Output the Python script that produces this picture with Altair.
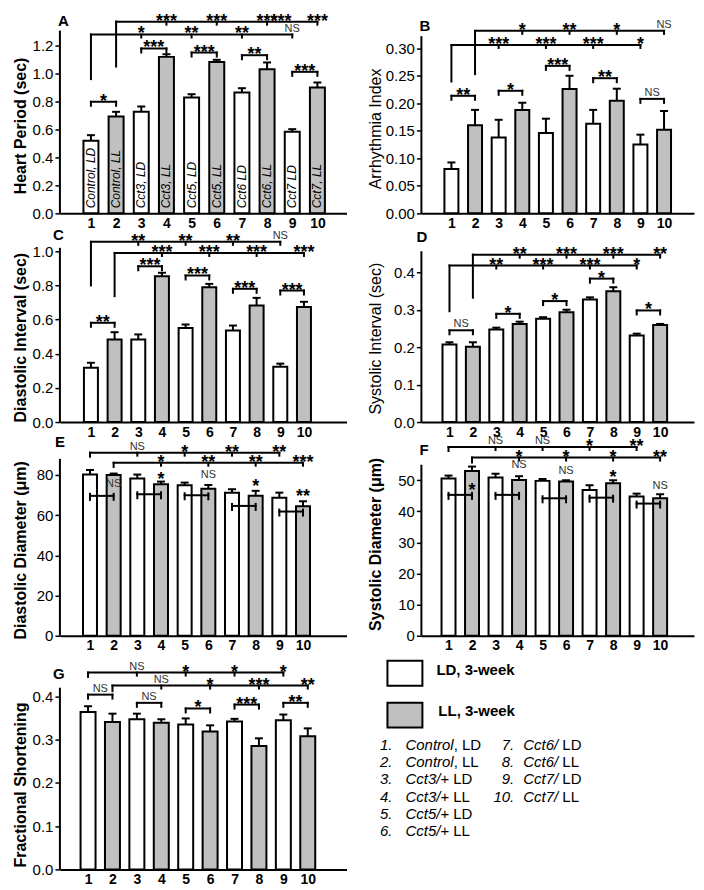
import altair as alt
import pandas as pd

FONT = "Liberation Sans"

# ---------------- data ----------------
BAR_IDS = list(range(1, 11))
COND = ["LD", "LL"] * 5
A_BAR_TEXT = ["Control, LD", "Control, LL", "Cct3, LD", "Cct3, LL", "Cct5, LD",
              "Cct5, LL", "Cct6 LD", "Cct6, LL", "Cct7 LD", "Cct7, LL"]

# A  Heart Period
A_vals = [0.519, 0.693, 0.726, 1.119, 0.829, 1.083, 0.864, 1.031, 0.583, 0.900]
A_errs = [0.040, 0.033, 0.038, 0.019, 0.023, 0.015, 0.031, 0.048, 0.019, 0.036]
A_long = [(1, 1.279, 0.96, [3, 5, 7, 9], ["*", "**", "**", "NS"]),
          (2, 1.371, 1.05, [4, 6, 8, 10], ["***", "***", "***", "***"])]
A_pairs = [(1, 2, 0.798, "*"), (3, 4, 1.179, "***"), (5, 6, 1.15, "***"),
           (7, 8, 1.131, "**"), (9, 10, 1.012, "***")]
A_marks = [(8.55, 1.371, "***")]

# B  Arrhythmia Index
B_vals = [0.0805, 0.160, 0.138, 0.188, 0.146, 0.226, 0.163, 0.2045, 0.125, 0.152]
B_errs = [0.012, 0.028, 0.032, 0.013, 0.026, 0.024, 0.025, 0.022, 0.018, 0.034]
B_long = [(1, 0.306, 0.2396, [3, 5, 7, 9], ["***", "***", "***", "*"]),
          (2, 0.3316, 0.253, [4, 6, 8, 10], ["*", "**", "*", "NS"])]
B_pairs = [(1, 2, 0.2136, "**"), (3, 4, 0.2227, "*"), (5, 6, 0.268, "***"),
           (7, 8, 0.2456, "**"), (9, 10, 0.208, "NS")]
B_marks = []

# C  Diastolic Interval
C_vals = [0.318, 0.483, 0.483, 0.854, 0.550, 0.789, 0.536, 0.682, 0.324, 0.674]
C_errs = [0.029, 0.043, 0.030, 0.020, 0.021, 0.020, 0.029, 0.045, 0.018, 0.030]
C_long = [(1, 1.055, 0.80, [3, 5, 7, 9], ["**", "**", "**", "NS"]),
          (2, 0.99, 0.737, [4, 6, 8, 10], ["***", "***", "***", "***"])]
C_pairs = [(1, 2, 0.581, "**"), (3, 4, 0.912, "***"), (5, 6, 0.858, "***"),
           (7, 8, 0.78, "***"), (9, 10, 0.77, "***")]
C_marks = []

# D  Systolic Interval
D_vals = [0.207, 0.201, 0.247, 0.262, 0.276, 0.293, 0.327, 0.349, 0.231, 0.259]
D_errs = [0.006, 0.012, 0.005, 0.006, 0.004, 0.007, 0.006, 0.011, 0.005, 0.003]
D_long = [(1, 0.418, 0.296, [3, 5, 7, 9], ["**", "***", "***", "*"]),
          (2, 0.447, 0.332, [4, 6, 8, 10], ["**", "***", "***", "**"])]
D_pairs = [(1, 2, 0.245, "NS"), (3, 4, 0.289, "*"), (5, 6, 0.323, "*"),
           (7, 8, 0.383, "*"), (9, 10, 0.298, "*")]
D_marks = []

# E  Diastolic Diameter
E_vals = [80.2, 80.0, 78.2, 75.4, 74.9, 73.2, 71.1, 69.6, 68.7, 64.4]
E_errs = [2.3, 0.7, 2.0, 1.3, 1.3, 1.8, 1.8, 2.5, 2.5, 2.5]
E_long = [(1, 91.1, 89.1, [3, 5, 7, 9], ["NS", "*", "**", "**"]),
          (2, 86.1, 84.0, [4, 6, 8, 10], ["*", "**", "**", "***"])]
E_pairs = [(1, 2, 69.6, ""), (3, 4, 70.4, ""), (5, 6, 69.9, ""),
           (7, 8, 64.6, ""), (9, 10, 61.8, "")]
E_marks = [(2, 72.7, "NS"), (4, 77.7, "*"), (6, 76.8, "NS"), (8, 73.9, "*"), (10, 68.9, "**")]

# F  Systolic Diameter
F_vals = [50.6, 53.0, 50.9, 50.1, 49.8, 49.6, 46.9, 49.0, 44.8, 44.2]
F_errs = [0.9, 1.4, 1.2, 1.2, 0.6, 0.4, 1.5, 1.0, 0.9, 1.3]
F_long = [(1, 60.7, 59.4, [3, 5, 7, 9], ["NS", "NS", "*", "**"]),
          (2, 57.3, 55.7, [4, 6, 8, 10], ["*", "*", "*", "**"])]
F_pairs = [(1, 2, 45.3, ""), (3, 4, 45.3, ""), (5, 6, 44.2, ""),
           (7, 8, 44.4, ""), (9, 10, 42.5, "")]
F_marks = [(2, 46.5, "*"), (4, 52.9, "NS"), (6, 51.0, "NS"), (8, 50.8, "*"), (10, 46.2, "NS")]

# G  Fractional Shortening
G_vals = [0.364, 0.341, 0.347, 0.339, 0.335, 0.319, 0.342, 0.285, 0.345, 0.308]
G_errs = [0.013, 0.019, 0.013, 0.008, 0.014, 0.014, 0.006, 0.018, 0.013, 0.018]
G_long = [(1, 0.455, 0.445, [3, 5, 7, 9], ["NS", "*", "*", "*"]),
          (2, 0.425, 0.412, [4, 6, 8, 10], ["NS", "*", "***", "**"])]
G_pairs = [(1, 2, 0.404, "NS"), (3, 4, 0.385, "NS"), (5, 6, 0.372, "*"),
           (7, 8, 0.381, "***"), (9, 10, 0.385, "**")]
G_marks = []

LEGEND_KEYS = ["LD, 3-week", "LL, 3-week"]
LIST_NUM = ["1.", "2.", "3.", "4.", "5.", "6.", "7.", "8.", "9.", "10."]
LIST_ITALIC = ["Control", "Control", "Cct3/+", "Cct3/+", "Cct5/+", "Cct5/+",
               "Cct6/", "Cct6/", "Cct7/", "Cct7/"]
LIST_PLAIN = [", LD", ", LL", "LD", "LL", "LD", "LL", "LD", "LL", "LD", "LL"]

# ---------------- layout ----------------
W_L, W_R = 287, 273
ROW_H = [198, 189, 194, 214]

PANELS = [
    dict(letter="A", vals=A_vals, errs=A_errs, long=A_long, pairs=A_pairs, marks=A_marks,
         w=W_L, h=ROW_H[0], ymax=1.414, xdom=[-0.034, 10.958],
         ticks=[0, 0.2, 0.4, 0.6, 0.8, 1.0, 1.2], fmt=".1f", title="Heart Period (sec)",
         bold=True, ext=28, tpad=3, titleY=110, axtop=1.307, bw=15, lpos=(-2, 10), up=0),
    dict(letter="B", vals=B_vals, errs=B_errs, long=B_long, pairs=B_pairs, marks=B_marks,
         w=W_R, h=ROW_H[0], ymax=0.3593, xdom=[-0.059, 11.057],
         ticks=[0, 0.05, 0.10, 0.15, 0.20, 0.25, 0.30], fmt=".2f", title="Arrhythmia Index",
         bold=False, ext=36, tpad=2, titleY=113, axtop=0.322, bw=14, lpos=(-2, 15), up=0),
    dict(letter="C", vals=C_vals, errs=C_errs, long=C_long, pairs=C_pairs, marks=C_marks,
         w=W_L, h=ROW_H[1], ymax=1.105, xdom=[-0.099, 11.587],
         ticks=[0, 0.2, 0.4, 0.6, 0.8, 1.0], fmt=".1f", title="Diastolic Interval (sec)",
         bold=True, ext=28, tpad=3, titleY=104, axtop=1.02, bw=14, lpos=(-7, 7), up=0),
    dict(letter="D", vals=D_vals, errs=D_errs, long=D_long, pairs=D_pairs, marks=D_marks,
         w=W_R, h=ROW_H[1], ymax=0.504, xdom=[0.0135, 11.234],
         ticks=[0, 0.1, 0.2, 0.3, 0.4], fmt=".1f", title="Systolic Interval (sec)",
         bold=False, ext=36, tpad=2, titleY=105, axtop=0.456, bw=14, lpos=(-5, 9), up=0),
    dict(letter="E", vals=E_vals, errs=E_errs, long=E_long, pairs=E_pairs, marks=E_marks,
         w=W_L, h=ROW_H[2], ymax=96.4, xdom=[-0.059, 11.627],
         ticks=[0, 20, 40, 60, 80], fmt="d", title="Diastolic Diameter (\u03bcm)",
         bold=True, ext=28, tpad=3, titleY=108, axtop=88, bw=14, lpos=(-5, 5), up=2),
    dict(letter="F", vals=F_vals, errs=F_errs, long=F_long, pairs=F_pairs, marks=F_marks,
         w=W_R, h=ROW_H[2], ymax=62.3, xdom=[0.059, 11.229],
         ticks=[0, 10, 20, 30, 40, 50], fmt="d", title="Systolic Diameter (\u03bcm)",
         bold=True, ext=36, tpad=2, titleY=102, axtop=55, bw=14, lpos=(-2, 13), up=2),
    dict(letter="G", vals=G_vals, errs=G_errs, long=G_long, pairs=G_pairs, marks=G_marks,
         w=W_L, h=ROW_H[3], ymax=0.494, xdom=[0.0525, 11.383],
         ticks=[0, 0.1, 0.2, 0.3, 0.4], fmt=".1f", title="Fractional Shortening",
         bold=True, ext=28, tpad=3, titleY=129, axtop=0.42, bw=15, lpos=(-7, 23), up=0),
]


def panel(p, bar_text=None):
    W, H, ymax = p["w"], p["h"], p["ymax"]
    k = H / ymax  # pixels per data unit
    xs = alt.Scale(domain=p["xdom"], nice=False, zero=False)
    ys = alt.Scale(domain=[0, ymax], nice=False, zero=False)

    bars = pd.DataFrame({"x": BAR_IDS, "v": p["vals"], "e": p["errs"], "c": COND})
    bars["top"] = bars["v"] + bars["e"]

    xaxis = alt.Axis(values=BAR_IDS, format="d", ticks=False, labelFontSize=14,
                     labelFontWeight="bold", labelColor="black", labelPadding=3,
                     domainColor="black", domainWidth=2, grid=False, title=None,
                     labelFlush=False, labelOverlap=False)
    yaxis = alt.Axis(values=p["ticks"], format=p["fmt"], domain=False, tickColor="black",
                     tickWidth=1.5, tickSize=5, labelFontSize=15, labelColor="black",
                     labelPadding=2, grid=False, title=p["title"], titleFontSize=16,
                     titleFontWeight="bold" if p["bold"] else "normal", titleColor="black",
                     titlePadding=p["tpad"], minExtent=p["ext"], maxExtent=p["ext"],
                     titleY=p["titleY"], labelOverlap=False)

    X = lambda f: alt.X(f"{f}:Q", scale=xs, axis=xaxis)
    Y = lambda f: alt.Y(f"{f}:Q", scale=ys, axis=yaxis)

    bar_layer = alt.Chart(bars).mark_bar(orient="vertical", size=p["bw"], stroke="black",
                                         strokeWidth=2).encode(
        x=X("x"), y=Y("v"),
        fill=alt.Fill("c:N", scale=alt.Scale(domain=["LD", "LL"], range=["white", "#c0c0c0"]),
                      legend=None),
    )
    err = alt.Chart(bars).mark_rule(color="black", strokeWidth=2).encode(
        x=X("x"), y=Y("v"), y2="top:Q")
    cap = alt.Chart(bars).mark_tick(orient="horizontal", color="black", size=8, thickness=2,
                                    opacity=1).encode(x=X("x"), y=Y("top"))

    segs, labs = [], []
    for (s, yl, yd, targets, labels) in p["long"]:
        segs.append(dict(x=s, x2=max(targets), y=yl, y2=yl))
        segs.append(dict(x=s, x2=s, y=yl, y2=yd))
        for t, lab in zip(targets, labels):
            segs.append(dict(x=t, x2=t, y=yl, y2=yl - 3 / k))
            labs.append(dict(x=t, y=yl, t=lab))
    for (i, j, yv, lab) in p["pairs"]:
        segs.append(dict(x=i, x2=j, y=yv, y2=yv))
        for e in (i, j):
            segs.append(dict(x=e, x2=e, y=yv + p["up"] / k, y2=yv - 4 / k))
        if lab:
            labs.append(dict(x=(i + j) / 2, y=yv, t=lab))
    for (xv, yv, lab) in p["marks"]:
        labs.append(dict(x=xv, y=yv, t=lab))

    seg_df = pd.DataFrame(segs)
    lab_df = pd.DataFrame(labs)

    seg_layer = alt.Chart(seg_df).mark_rule(color="black", strokeWidth=2, strokeCap="square").encode(
        x=X("x"), x2="x2:Q", y=Y("y"), y2="y2:Q")
    stars = alt.Chart(lab_df).transform_filter("datum.t != 'NS'").mark_text(
        fontSize=18, fontWeight="bold", baseline="alphabetic", dy=5, color="black").encode(
        x=X("x"), y=Y("y"), text="t:N")
    ns = alt.Chart(lab_df).transform_filter("datum.t == 'NS'").mark_text(
        fontSize=11, baseline="alphabetic", dy=-3, color="#333333").encode(
        x=X("x"), y=Y("y"), text="t:N")
    yline = alt.Chart(pd.DataFrame({"a": [0], "b": [p["axtop"]]})).mark_rule(
        color="black", strokeWidth=2).encode(x=alt.value(0), y=Y("a"), y2="b:Q")
    letter = alt.Chart(pd.DataFrame({"t": [p["letter"]]})).mark_text(
        align="left", baseline="alphabetic", fontSize=15, fontWeight="bold", color="black").encode(
        x=alt.value(p["lpos"][0]), y=alt.value(p["lpos"][1]), text="t:N")

    layers = [bar_layer, err, cap, seg_layer, stars, ns, yline, letter]
    if bar_text is not None:
        bt = pd.DataFrame({"x": BAR_IDS, "t": bar_text})
        bt["ly"] = 5 / k
        layers.append(alt.Chart(bt).mark_text(angle=270, align="left", baseline="middle",
                                              fontSize=12, fontStyle="italic", color="black").encode(
            x=X("x"), y=Y("ly"), text="t:N"))
    return alt.layer(*layers).properties(width=W, height=H)


def text_width(s, size):
    w = {'C': .722, 'o': .556, 'n': .556, 't': .278, 'r': .333, 'l': .222, 'c': .5,
         '3': .556, '5': .556, '6': .556, '7': .556, '/': .278, '+': .584}
    return sum(w.get(ch, .556) for ch in s) * size


def legend_cell():
    W, H = W_R, ROW_H[3]
    xs = alt.Scale(domain=[0, W], nice=False, zero=False)
    ys = alt.Scale(domain=[0, H], nice=False, zero=False, reverse=True)
    X = lambda f: alt.X(f"{f}:Q", scale=xs, axis=None)
    Y = lambda f: alt.Y(f"{f}:Q", scale=ys, axis=None)

    boxes = pd.DataFrame({"x": [-34, -34], "x2": [1, 1], "y": [5, 47], "y2": [30, 72],
                          "c": ["LD", "LL"]})
    box_layer = alt.Chart(boxes).mark_rect(stroke="black", strokeWidth=2).encode(
        x=X("x"), x2="x2:Q", y=Y("y"), y2="y2:Q",
        fill=alt.Fill("c:N", scale=alt.Scale(domain=["LD", "LL"], range=["white", "#c0c0c0"]),
                      legend=None))
    keys = pd.DataFrame({"x": [15, 17], "y": [19, 60], "t": LEGEND_KEYS})
    key_layer = alt.Chart(keys).mark_text(align="left", baseline="alphabetic", fontSize=15,
                                          fontWeight="bold", color="black").encode(
        x=X("x"), y=Y("y"), text="t:N")

    rows = []
    for i in range(10):
        col = 0 if i < 6 else 1
        r = i if i < 6 else i - 6
        yv = 94 + 17.4 * r
        num_x = -29 if col == 0 else 93
        name_x = -16 if col == 0 else 102
        plain_x = name_x + text_width(LIST_ITALIC[i], 15)
        if not LIST_PLAIN[i].startswith(","):
            plain_x += 0.278 * 15
        rows.append(dict(y=yv, nx=num_x, n=LIST_NUM[i], ix=name_x, it=LIST_ITALIC[i],
                         px=plain_x, pt=LIST_PLAIN[i]))
    ldf = pd.DataFrame(rows)
    nums = alt.Chart(ldf).mark_text(align="right", baseline="alphabetic", fontSize=15,
                                    fontStyle="italic", color="black").encode(
        x=X("nx"), y=Y("y"), text="n:N")
    itals = alt.Chart(ldf).mark_text(align="left", baseline="alphabetic", fontSize=15,
                                     fontStyle="italic", color="black").encode(
        x=X("ix"), y=Y("y"), text="it:N")
    plains = alt.Chart(ldf).mark_text(align="left", baseline="alphabetic", fontSize=15,
                                      color="black").encode(
        x=X("px"), y=Y("y"), text="pt:N")
    return alt.layer(box_layer, key_layer, nums, itals, plains).properties(width=W, height=H)


cells = [panel(PANELS[0], A_BAR_TEXT)] + [panel(p) for p in PANELS[1:]] + [legend_cell()]

chart = alt.concat(*cells, columns=2, spacing={"row": 20, "column": 75}, bounds="flush").properties(
    padding={"left": 5, "top": 4, "right": 2, "bottom": 0}
).configure(font=FONT).configure_view(strokeWidth=0)

chart.save("out.html", embed_options={"renderer": "svg", "actions": False})
